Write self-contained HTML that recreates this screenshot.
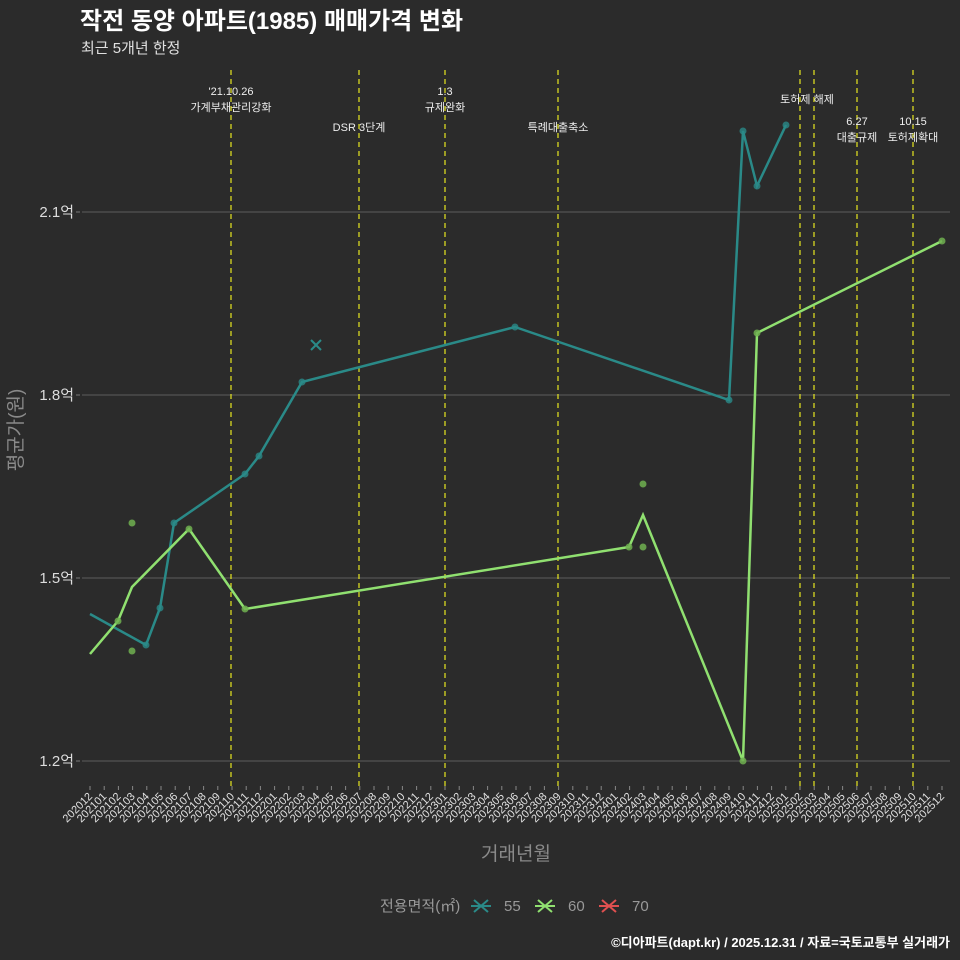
<!DOCTYPE html>
<html><head><meta charset="utf-8"><style>
html,body{margin:0;padding:0;background:#2b2b2b;}
svg{display:block;font-family:"Liberation Sans","Noto Sans CJK KR",sans-serif;}
</style></head><body>
<svg width="960" height="960" viewBox="0 0 960 960" xmlns="http://www.w3.org/2000/svg">
<rect width="960" height="960" fill="#2b2b2b"/>
<text x="80" y="29" fill="#ffffff" font-size="24" font-weight="bold">작전 동양 아파트(1985) 매매가격 변화</text>
<text x="81" y="53" fill="#e0e0e0" font-size="15">최근 5개년 한정</text>
<g stroke="#5e5e5e" stroke-width="1">
<line x1="82" y1="212" x2="950" y2="212"/><line x1="82" y1="395" x2="950" y2="395"/>
<line x1="82" y1="578" x2="950" y2="578"/><line x1="82" y1="761" x2="950" y2="761"/>
</g>
<g fill="#dddddd" font-size="15" text-anchor="end">
<text x="74" y="217">2.1억</text><text x="74" y="400">1.8억</text>
<text x="74" y="583">1.5억</text><text x="74" y="766">1.2억</text>
</g>
<g stroke="#777" stroke-width="1"><line x1="76" y1="212" x2="80" y2="212"/><line x1="76" y1="395" x2="80" y2="395"/><line x1="76" y1="578" x2="80" y2="578"/><line x1="76" y1="761" x2="80" y2="761"/></g>
<text transform="translate(22,430) rotate(-90)" fill="#8a8a8a" font-size="19" text-anchor="middle">평균가(원)</text>
<g stroke="#e6e620" stroke-width="1.2" stroke-dasharray="5,4">
<line x1="231" y1="70" x2="231" y2="790"/><line x1="359" y1="70" x2="359" y2="790"/>
<line x1="445" y1="70" x2="445" y2="790"/><line x1="558" y1="70" x2="558" y2="790"/>
<line x1="800" y1="70" x2="800" y2="790"/><line x1="814" y1="70" x2="814" y2="790"/>
<line x1="857" y1="70" x2="857" y2="790"/><line x1="913" y1="70" x2="913" y2="790"/>
</g>
<g fill="#eeeeee" font-size="11" text-anchor="middle">
<text x="231" y="95">'21.10.26</text><text x="231" y="111">가계부채관리강화</text>
<text x="359" y="131">DSR 3단계</text>
<text x="445" y="95">1.3</text><text x="445" y="111">규제완화</text>
<text x="558" y="131">특례대출축소</text>
<text x="807" y="103">토허제 해제</text>
<text x="857" y="125">6.27</text><text x="857" y="141">대출규제</text>
<text x="913" y="125">10.15</text><text x="913" y="141">토허제확대</text>
</g>
<polyline fill="none" stroke="#2a8a88" stroke-width="2.5" points="90,614 146,645 160,608 174,523 245,474 259,456 302,382 515,327 729,400 743,131 757,186 786,125"/>
<polyline fill="none" stroke="#90e070" stroke-width="2.5" points="90,654 118,621 132,587 189,529 245,609 629,547 643,515 743,761 757,333 942,241"/>
<g fill="#2a8a88" fill-opacity="0.8">
<circle cx="146" cy="645" r="3.5"/><circle cx="160" cy="608" r="3.5"/><circle cx="174" cy="523" r="3.5"/><circle cx="245" cy="474" r="3.5"/><circle cx="259" cy="456" r="3.5"/><circle cx="302" cy="382" r="3.5"/><circle cx="515" cy="327" r="3.5"/><circle cx="729" cy="400" r="3.5"/><circle cx="743" cy="131" r="3.5"/><circle cx="757" cy="186" r="3.5"/><circle cx="786" cy="125" r="3.5"/>
</g>
<g fill="#70b050" fill-opacity="0.85">
<circle cx="132" cy="523" r="3.5"/><circle cx="132" cy="651" r="3.5"/><circle cx="118" cy="621" r="3.5"/><circle cx="189" cy="529" r="3.5"/><circle cx="245" cy="609" r="3.5"/><circle cx="629" cy="547" r="3.5"/><circle cx="643" cy="484" r="3.5"/><circle cx="643" cy="547" r="3.5"/><circle cx="743" cy="761" r="3.5"/><circle cx="757" cy="333" r="3.5"/><circle cx="942" cy="241" r="3.5"/>
</g>
<g stroke="#2a8a88" stroke-width="2"><line x1="311" y1="340" x2="321" y2="350"/><line x1="311" y1="350" x2="321" y2="340"/></g>
<g stroke="#888" stroke-width="1" id="ticks">
</g>
<g fill="#e0e0e0" font-size="11" text-anchor="end" id="xl"></g>
<text x="516" y="860" fill="#8a8a8a" font-size="19" text-anchor="middle">거래년월</text>
<text x="380" y="911" fill="#999" font-size="15">전용면적(㎡)</text>
<g stroke-width="2">
<g stroke="#2a8a88"><line x1="471" y1="906" x2="491" y2="906"/><line x1="474" y1="900" x2="488" y2="912"/><line x1="474" y1="912" x2="488" y2="900"/></g>
<g stroke="#90e070"><line x1="535" y1="906" x2="555" y2="906"/><line x1="538" y1="900" x2="552" y2="912"/><line x1="538" y1="912" x2="552" y2="900"/></g>
<g stroke="#e05050"><line x1="599" y1="906" x2="619" y2="906"/><line x1="602" y1="900" x2="616" y2="912"/><line x1="602" y1="912" x2="616" y2="900"/></g>
</g>
<g fill="#999" font-size="15"><text x="504" y="911">55</text><text x="568" y="911">60</text><text x="632" y="911">70</text></g>
<text x="950" y="947" fill="#ffffff" font-size="13" font-weight="bold" text-anchor="end">©디아파트(dapt.kr) / 2025.12.31 / 자료=국토교통부 실거래가</text>
<script>
var t=document.getElementById('ticks'),l=document.getElementById('xl'),ns='http://www.w3.org/2000/svg';
for(var i=0;i<61;i++){var x=90+14.2*i;var y=2020,m=12+i;y+=Math.floor((m-1)/12);m=((m-1)%12)+1;
var ln=document.createElementNS(ns,'line');ln.setAttribute('x1',x);ln.setAttribute('x2',x);ln.setAttribute('y1',786);ln.setAttribute('y2',790);t.appendChild(ln);
var tx=document.createElementNS(ns,'text');tx.setAttribute('transform','translate('+(x+3)+',797) rotate(-45)');tx.textContent=y+(m<10?'0':'')+m;l.appendChild(tx);}
</script>
</svg>
</body></html>
